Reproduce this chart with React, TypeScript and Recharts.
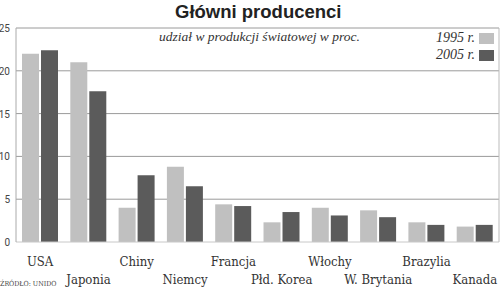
import { BarChart, Bar, XAxis, YAxis, CartesianGrid } from "recharts";

const countries = [
  "USA",
  "Japonia",
  "Chiny",
  "Niemcy",
  "Francja",
  "Płd. Korea",
  "Włochy",
  "W. Brytania",
  "Brazylia",
  "Kanada",
];
const share1995 = [22.0, 21.0, 4.0, 8.8, 4.4, 2.3, 4.0, 3.7, 2.3, 1.8];
const share2005 = [22.4, 17.6, 7.8, 6.5, 4.2, 3.5, 3.1, 2.9, 2.0, 2.0];
const yTicks = [0, 5, 10, 15, 20, 25];

const LIGHT = "#c0c0c0";
const DARK = "#5b5b5b";

const data = countries.map((name, i) => ({
  name,
  y1995: share1995[i],
  y2005: share2005[i],
}));

// labels alternate between two rows so they don't collide
function CountryTick({ x, y, payload, index }: any) {
  const dy = index % 2 === 0 ? 16 : 34;
  return (
    <text
      x={x}
      y={y + dy}
      textAnchor="middle"
      fill="#333"
      style={{ fontFamily: "DejaVu Serif", fontStretch: "condensed", fontSize: 13 }}
    >
      {payload.value}
    </text>
  );
}

function ValueTick({ y, payload }: any) {
  return (
    <text
      x={10}
      y={y + 4}
      textAnchor="end"
      fill="#444"
      style={{ fontFamily: "Roboto", fontSize: 10 }}
    >
      {payload.value}
    </text>
  );
}

export default function App() {
  return (
    <div style={{ position: "absolute", left: 0, top: 0, width: 500, height: 289, background: "#fff", overflow: "hidden" }}>
      <BarChart
        width={500}
        height={289}
        data={data}
        margin={{ top: 28, right: 0, left: 0, bottom: 0 }}
        barSize={17}
        barGap={2}
      >
        <CartesianGrid
          yAxisId="left"
          vertical={false}
          stroke="#9a9a9a"
          horizontalValues={[5, 10, 15, 20, 25]}
        />
        <XAxis
          dataKey="name"
          height={47}
          interval={0}
          tickLine={false}
          axisLine={{ stroke: "#c8c8c8" }}
          tick={<CountryTick />}
        />
        <YAxis
          yAxisId="left"
          width={16}
          domain={[0, 25]}
          ticks={yTicks}
          tickLine={false}
          axisLine={{ stroke: "#aaa" }}
          tick={<ValueTick />}
        />
        <YAxis
          yAxisId="right"
          orientation="right"
          width={1}
          domain={[0, 25]}
          tick={false}
          tickLine={false}
          axisLine={{ stroke: "#bbb" }}
        />
        <Bar yAxisId="left" dataKey="y1995" fill={LIGHT} isAnimationActive={false} />
        <Bar yAxisId="left" dataKey="y2005" fill={DARK} isAnimationActive={false} />
      </BarChart>

      <div
        style={{
          position: "absolute",
          left: 175,
          top: 2,
          fontFamily: "Liberation Sans",
          fontWeight: "bold",
          fontSize: 18.5,
          lineHeight: "20px",
          color: "#222",
        }}
      >
        Główni producenci
      </div>
      <div
        style={{
          position: "absolute",
          left: 159,
          top: 29,
          fontFamily: "Liberation Serif",
          fontStyle: "italic",
          fontSize: 13.5,
          lineHeight: "16px",
          color: "#333",
        }}
      >
        udział w produkcji światowej w proc.
      </div>

      {/* legend */}
      {[
        { label: "1995 r.", color: LIGHT, top: 32 },
        { label: "2005 r.", color: DARK, top: 49 },
      ].map((it) => (
        <div key={it.label} style={{ position: "absolute", right: 6, top: it.top, display: "flex", alignItems: "center", height: 12 }}>
          <span style={{ fontFamily: "Liberation Serif", fontStyle: "italic", fontSize: 14, color: "#333", marginRight: 4 }}>
            {it.label}
          </span>
          <span style={{ display: "inline-block", width: 15, height: 11, background: it.color }} />
        </div>
      ))}

      <div
        style={{
          position: "absolute",
          left: 0,
          top: 280,
          fontFamily: "DejaVu Serif",
          fontStretch: "condensed",
          fontSize: 7,
          lineHeight: "8px",
          color: "#444",
        }}
      >
        ŹRÓDŁO: UNIDO
      </div>
    </div>
  );
}
